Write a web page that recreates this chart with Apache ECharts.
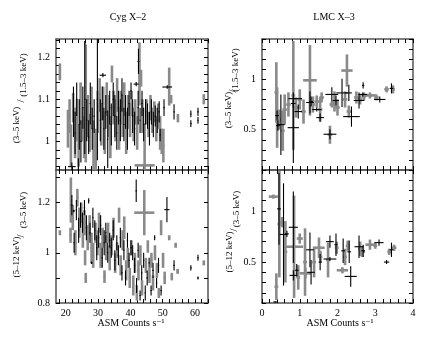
<!DOCTYPE html>
<html>
<head>
<meta charset="utf-8">
<script src="https://cdn.jsdelivr.net/npm/echarts@6/dist/echarts.min.js"></script>
<style>
  html, body { margin: 0; padding: 0; background: #fff; }
  #chart { width: 443px; height: 343px; }
</style>
</head>
<body>
<div id="chart"></div>
<script>
// each point: [x, y, xErr, yErr]
const cygSoftGray = [
  [18.2,1.165,0.2,0.02],[20.7,1.03,0.3,0.045],[21.2,1.06,0.3,0.04],[21.6,0.99,0.3,0.05],
  [22.3,1.08,0.3,0.035],[22.9,1.02,0.3,0.06],[23.5,1.05,0.3,0.05],[24.0,0.99,0.3,0.05],
  [24.6,1.09,0.3,0.05],[25.1,1.04,0.3,0.04],[25.7,1.01,0.3,0.05],[26.2,1.09,0.3,0.14],
  [26.8,1.06,0.3,0.05],[27.4,1.02,0.3,0.045],[28.0,1.08,0.3,0.05],[28.6,0.99,0.3,0.06],
  [29.3,0.98,0.3,0.05],[29.9,1.07,0.3,0.05],[30.5,1.11,0.3,0.04],[31.0,1.04,0.3,0.05],
  [31.6,1.09,0.3,0.04],[32.1,1.02,0.3,0.05],[32.7,1.10,0.3,0.04],[33.3,1.06,0.3,0.05],
  [33.8,1.01,0.3,0.05],[34.3,1.16,0.3,0.02],[34.8,1.08,0.3,0.04],[35.4,1.05,0.3,0.05],
  [35.9,1.11,0.3,0.04],[36.5,1.03,0.3,0.05],[37.0,1.08,0.3,0.04],[37.6,1.06,0.3,0.05],
  [38.1,1.10,0.3,0.04],[38.7,1.02,0.3,0.05],[39.3,1.07,0.3,0.04],[39.9,1.05,0.3,0.04],
  [40.4,1.09,0.3,0.03],[41.0,1.04,0.3,0.04],[41.5,1.07,0.3,0.03],[42.1,1.02,0.3,0.04],
  [42.8,1.16,0.3,0.075],[43.3,1.15,0.3,0.02],[43.7,1.06,0.3,0.04],[44.4,0.943,3.1,0.1],
  [45.0,1.07,0.3,0.03],[45.6,1.04,0.3,0.03],[46.2,1.08,0.3,0.03],[46.8,1.05,0.3,0.03],
  [47.4,1.07,0.3,0.025],[48.0,1.03,0.3,0.03],[48.6,1.06,0.3,0.03],[49.2,1.02,0.3,0.04],
  [49.7,1.00,0.3,0.03],[50.2,0.99,0.3,0.04],[52.0,1.13,0.3,0.045],[52.6,1.10,0.3,0.01],
  [54.7,1.055,0.3,0.01],[62.7,1.10,0.2,0.012]
];
const cygSoftBlack = [
  [21.9,0.94,1.2,0.01],[23.9,0.93,0.2,0.03],[22.4,1.07,0.2,0.06],[22.9,1.02,0.2,0.05],
  [23.4,1.10,0.2,0.04],[24.2,1.04,0.2,0.06],[24.7,1.00,0.2,0.05],[25.3,1.08,0.2,0.05],
  [25.9,1.10,0.2,0.13],[25.9,1.233,0.2,0.005],[26.5,1.05,0.2,0.05],[27.1,1.01,0.2,0.04],
  [27.6,1.09,0.2,0.05],[28.2,1.03,0.2,0.05],[28.8,1.06,0.2,0.04],[29.8,1.10,0.2,0.145],
  [31.5,1.157,1.0,0.005],[30.7,1.05,0.2,0.05],[31.3,1.09,0.2,0.04],[31.8,1.03,0.2,0.05],
  [32.4,1.07,0.2,0.04],[33.0,1.005,0.2,0.068],[33.6,1.08,0.2,0.04],[34.1,1.04,0.2,0.05],
  [34.7,1.10,0.2,0.04],[35.2,1.06,0.2,0.05],[35.8,1.02,0.2,0.04],[36.3,1.08,0.2,0.04],
  [36.9,1.05,0.2,0.05],[37.4,1.11,0.2,0.04],[38.0,1.04,0.2,0.04],[38.5,1.07,0.2,0.04],
  [39.1,1.03,0.2,0.05],[39.6,1.09,0.2,0.03],[40.2,1.12,0.2,0.02],[40.7,1.06,0.2,0.04],
  [41.3,1.03,0.2,0.04],[41.8,1.136,0.8,0.005],[42.4,1.08,0.2,0.04],[42.5,1.19,0.3,0.03],
  [43.0,1.05,0.2,0.03],[43.6,1.09,0.2,0.03],[44.1,1.04,0.2,0.04],[44.7,1.07,0.2,0.03],
  [45.3,1.06,0.2,0.03],[45.9,1.03,0.2,0.04],[46.5,1.07,0.2,0.03],[47.1,1.04,0.2,0.03],
  [47.7,1.06,0.2,0.025],[48.3,1.05,0.2,0.03],[48.9,1.07,0.2,0.025],[49.2,1.015,0.2,0.015],
  [50.4,1.08,0.2,0.02],[51.4,1.129,1.5,0.004],[53.5,1.07,0.2,0.018],[58.7,1.065,0.2,0.008],
  [58.7,1.042,0.2,0.008],[60.9,1.07,0.2,0.01],[60.9,1.05,0.2,0.008]
];
const cygHardGray = [
  [18.2,1.08,0.2,0.01],[21.6,1.21,0.3,0.09],[21.5,1.07,0.3,0.03],[22.2,1.14,0.3,0.05],
  [23.0,1.04,0.3,0.05],[23.6,1.22,0.3,0.035],[24.2,1.12,0.3,0.06],[24.8,1.16,0.3,0.04],
  [25.3,1.08,0.3,0.06],[25.8,1.12,0.3,0.05],[26.0,0.98,0.3,0.03],[26.2,0.90,0.3,0.02],
  [26.8,1.06,0.3,0.05],[27.4,1.11,0.3,0.04],[28.0,1.02,0.3,0.06],[28.5,0.99,0.3,0.05],
  [29.2,1.08,0.3,0.04],[29.8,1.04,0.3,0.05],[30.3,1.12,0.3,0.04],[30.8,0.99,0.3,0.05],
  [31.4,1.06,0.3,0.04],[32.0,0.905,0.3,0.025],[32.5,1.02,0.3,0.05],[33.1,1.08,0.3,0.04],
  [33.6,0.98,0.3,0.05],[34.2,1.03,0.3,0.04],[34.8,1.10,0.3,0.04],[35.3,0.96,0.3,0.04],
  [35.9,1.01,0.3,0.03],[36.5,1.15,0.3,0.03],[37.0,0.95,0.3,0.04],[37.6,1.05,0.3,0.04],
  [38.1,1.10,0.3,0.045],[38.7,0.93,0.3,0.04],[39.2,0.98,0.3,0.04],[39.8,0.90,0.3,0.04],
  [40.3,1.02,0.3,0.03],[40.9,0.87,0.3,0.04],[41.4,0.96,0.3,0.04],[42.0,0.84,0.3,0.03],
  [42.5,0.93,0.3,0.04],[43.1,0.99,0.3,0.04],[43.6,0.86,0.3,0.03],[44.3,1.16,3.1,0.09],
  [44.8,0.95,0.3,0.03],[45.4,1.025,0.3,0.025],[45.9,0.91,0.3,0.03],[46.5,0.97,0.3,0.03],
  [47.0,0.88,0.3,0.03],[47.6,1.00,0.3,0.03],[48.2,0.93,0.3,0.03],[48.8,0.84,0.3,0.02],
  [49.5,1.10,0.3,0.03],[50.1,0.97,0.3,0.03],[50.6,0.90,0.3,0.025],[52.0,1.06,0.3,0.01],
  [52.8,0.905,0.3,0.015],[54.0,1.03,0.3,0.01],[54.6,0.926,0.3,0.01],[62.7,0.96,0.2,0.01]
];
const cygHardBlack = [
  [21.9,1.19,0.3,0.04],[22.5,1.167,0.3,0.005],[22.6,1.04,0.2,0.04],[23.3,1.17,0.2,0.04],
  [24.0,1.09,0.2,0.05],[24.6,1.15,0.2,0.05],[25.2,1.12,0.2,0.04],[25.8,1.18,0.2,0.03],
  [26.4,1.10,0.2,0.05],[27.1,1.207,0.2,0.01],[27.5,1.08,0.2,0.04],[28.0,0.96,0.3,0.005],
  [28.4,1.14,0.2,0.04],[29.0,1.09,0.2,0.04],[29.6,1.02,0.2,0.05],[30.2,1.06,0.2,0.04],
  [30.8,1.11,0.2,0.04],[31.3,0.98,0.2,0.04],[31.9,1.04,0.2,0.05],[32.4,1.08,0.2,0.04],
  [33.0,1.00,0.2,0.04],[33.6,1.05,0.2,0.03],[34.1,1.02,0.2,0.04],[34.7,1.09,0.2,0.04],
  [35.2,0.97,0.2,0.04],[35.8,1.04,0.2,0.03],[36.3,0.99,0.2,0.04],[36.9,1.06,0.2,0.04],
  [37.4,0.92,0.2,0.03],[38.0,1.01,0.2,0.04],[38.5,0.90,0.2,0.03],[39.1,1.05,0.2,0.03],
  [39.6,0.97,0.2,0.03],[40.2,1.02,0.2,0.03],[40.7,1.00,0.2,0.03],[41.3,0.95,0.2,0.03],
  [41.8,1.247,0.2,0.045],[41.9,0.87,0.2,0.03],[42.4,1.01,0.2,0.03],[43.0,0.83,0.2,0.02],
  [43.5,0.92,0.2,0.03],[44.1,0.97,0.2,0.03],[44.6,0.84,0.2,0.03],[45.2,0.90,0.2,0.03],
  [45.8,0.96,0.2,0.02],[46.4,0.85,0.2,0.02],[47.0,0.93,0.2,0.03],[47.5,1.06,0.2,0.01],
  [48.1,0.88,0.2,0.02],[48.7,0.95,0.2,0.03],[49.5,0.85,0.2,0.02],[51.3,1.172,0.8,0.05],
  [53.5,0.95,0.2,0.02],[58.7,0.94,0.2,0.01],[60.9,0.98,0.2,0.012],[60.9,0.90,0.2,0.006]
];
const lmcSoftGray = [
  [0.38,0.87,0.05,0.3],[0.40,0.62,0.05,0.3],[0.45,0.60,0.05,0.1],[0.55,0.49,0.05,0.2],
  [0.60,0.70,0.06,0.15],[0.70,0.75,0.06,0.12],[0.83,0.84,0.05,0.54],[0.90,0.72,0.06,0.1],
  [1.00,0.80,0.06,0.1],[1.10,0.68,0.06,0.12],[1.27,0.99,0.18,0.35],[1.35,0.75,0.06,0.08],
  [1.45,0.78,0.06,0.06],[1.54,0.70,0.06,0.12],[1.58,0.82,0.06,0.05],[1.80,0.45,0.06,0.09],
  [1.92,0.78,0.06,0.1],[2.00,0.72,0.06,0.08],[1.85,0.75,0.06,0.03],[2.25,1.087,0.15,0.16],
  [2.20,0.80,0.06,0.08],[2.30,0.68,0.06,0.06],[2.50,0.82,0.06,0.06],[2.60,0.80,0.06,0.05],
  [2.70,0.83,0.06,0.04],[2.86,0.84,0.15,0.03],[3.03,0.82,0.06,0.03],[3.30,0.90,0.06,0.03],
  [3.47,0.90,0.05,0.04]
];
const lmcSoftBlack = [
  [0.40,0.64,0.05,0.05],[0.42,0.54,0.05,0.05],[0.50,0.55,0.1,0.3],[0.83,0.52,0.15,0.35],
  [0.83,0.76,0.06,0.04],[0.88,0.808,0.18,0.005],[0.96,0.68,0.1,0.07],[1.27,0.77,0.1,0.11],
  [1.30,0.78,0.05,0.05],[1.45,0.70,0.12,0.02],[1.54,0.62,0.1,0.04],[1.80,0.455,0.17,0.05],
  [1.85,0.85,0.17,0.07],[1.96,0.79,0.08,0.05],[2.12,0.865,0.15,0.14],[2.30,0.865,0.08,0.08],
  [2.37,0.63,0.22,0.1],[2.57,0.79,0.14,0.08],[2.67,0.85,0.12,0.02],[2.68,0.94,0.03,0.03],
  [3.12,0.80,0.15,0.03],[3.43,0.91,0.05,0.05]
];
const lmcHardGray = [
  [0.30,1.14,0.12,0.02],[0.46,0.87,0.05,0.52],[0.53,0.89,0.06,0.05],[0.38,0.26,0.05,0.13],
  [0.62,0.60,0.05,0.3],[0.85,0.65,0.24,0.5],[0.96,0.35,0.05,0.12],[1.00,0.73,0.08,0.05],
  [1.14,0.50,0.05,0.33],[1.15,0.39,0.15,0.05],[1.38,0.50,0.05,0.15],[1.51,0.64,0.15,0.1],
  [1.55,0.55,0.05,0.06],[1.75,0.52,0.05,0.17],[1.98,0.64,0.05,0.06],[2.13,0.42,0.15,0.03],
  [2.20,0.55,0.05,0.08],[2.27,0.66,0.05,0.05],[2.60,0.63,0.05,0.07],[2.65,0.60,0.08,0.05],
  [2.86,0.67,0.12,0.05],[3.00,0.66,0.05,0.03],[3.37,0.60,0.05,0.03],[3.50,0.64,0.06,0.03]
];
const lmcHardBlack = [
  [0.35,0.11,0.05,0.005],[0.45,1.02,0.05,0.35],[0.57,0.77,0.1,0.5],[0.66,0.776,0.05,0.03],
  [0.83,0.84,0.12,0.35],[0.83,0.37,0.1,0.05],[0.92,0.42,0.05,0.06],[1.27,0.62,0.1,0.17],
  [1.30,0.40,0.1,0.12],[1.54,0.50,0.04,0.08],[1.80,0.53,0.17,0.02],[1.80,0.70,0.1,0.06],
  [1.96,0.67,0.04,0.11],[2.15,0.61,0.05,0.12],[2.31,0.60,0.05,0.11],[2.35,0.36,0.16,0.1],
  [2.57,0.65,0.12,0.11],[2.68,0.61,0.05,0.06],[3.10,0.69,0.12,0.03],[3.30,0.50,0.07,0.02],
  [3.43,0.62,0.05,0.07]
];

// tick labels
const cygXLabels = [20, 30, 40, 50, 60];
const cygSoftYLabels = [1, 1.1, 1.2];
const cygHardYLabels = [0.8, 1, 1.2];
const lmcXLabels = [0, 1, 2, 3, 4];
const lmcYLabels = [0.5, 1];

const serif = '"Liberation Serif", "DejaVu Serif", serif';

function steps(from, to, step) {
  let out = [];
  for (let v = from; v <= to + 1e-9; v += step) out.push(Math.round(v * 1000) / 1000);
  return out;
}

function axis(grid, pos, min, max, labels, ticks) {
  return {
    type: 'value', gridIndex: grid, position: pos, min: min, max: max,
    axisLine: { show: true, onZero: false, lineStyle: { color: '#555', width: 1.5 } },
    axisTick: { inside: true, length: 4, customValues: ticks, lineStyle: { color: '#000' } },
    axisLabel: labels ? {
      customValues: labels, color: '#000', fontFamily: serif, fontSize: 10,
      margin: (pos == 'left') ? 6 : 5, formatter: v => String(v)
    } : { show: false },
    splitLine: { show: false }
  };
}

const cygXTicks = steps(18, 64, 2);
const lmcXTicks = steps(0, 4, 0.2);
const cygSoftTicks = steps(0.94, 1.24, 0.02);
const cygHardTicks = steps(0.8, 1.3, 0.1);
const lmcYTicks = steps(0.1, 1.4, 0.1);

// grids: 0 Cyg top, 1 Cyg bottom, 2 LMC top, 3 LMC bottom
const grids = [
  { left: 56, top: 39, width: 152, height: 131 },
  { left: 56, top: 170, width: 152, height: 133 },
  { left: 262, top: 39, width: 151, height: 131 },
  { left: 262, top: 170, width: 151, height: 133 }
];

const xAxes = [
  axis(0, 'bottom', 17, 64, null, cygXTicks), axis(0, 'top', 17, 64, null, cygXTicks),
  axis(1, 'bottom', 17, 64, cygXLabels, cygXTicks), axis(1, 'top', 17, 64, null, cygXTicks),
  axis(2, 'bottom', 0, 4, null, lmcXTicks), axis(2, 'top', 0, 4, null, lmcXTicks),
  axis(3, 'bottom', 0, 4, lmcXLabels, lmcXTicks), axis(3, 'top', 0, 4, null, lmcXTicks)
];
const yAxes = [
  axis(0, 'left', 0.932, 1.243, cygSoftYLabels, cygSoftTicks), axis(0, 'right', 0.932, 1.243, null, cygSoftTicks),
  axis(1, 'left', 0.8, 1.33, cygHardYLabels, cygHardTicks), axis(1, 'right', 0.8, 1.33, null, cygHardTicks),
  axis(2, 'left', 0.1, 1.4, lmcYLabels, lmcYTicks), axis(2, 'right', 0.1, 1.4, null, lmcYTicks),
  axis(3, 'left', 0.1, 1.4, lmcYLabels, lmcYTicks), axis(3, 'right', 0.1, 1.4, null, lmcYTicks)
];

function errSeries(data, panel, gray) {
  return {
    type: 'custom',
    xAxisIndex: panel * 2, yAxisIndex: panel * 2,
    clip: true,
    z: gray ? 2 : 3,
    dimensions: ['x', 'y', 'dx', 'dy'],
    encode: { x: 0, y: 1 },
    data: data,
    silent: true,
    renderItem: function (params, api) {
      let x = api.value(0), y = api.value(1), dx = api.value(2), dy = api.value(3);
      let l = api.coord([x - dx, y]), r = api.coord([x + dx, y]);
      let t = api.coord([x, y + dy]), b = api.coord([x, y - dy]);
      let style = { stroke: gray ? '#8a8a8a' : '#000', lineWidth: gray ? 2.6 : 1.1 };
      return {
        type: 'group',
        children: [
          { type: 'line', shape: { x1: l[0], y1: l[1], x2: r[0], y2: r[1] }, style: style },
          { type: 'line', shape: { x1: t[0], y1: t[1], x2: b[0], y2: b[1] }, style: style }
        ]
      };
    }
  };
}

function txt(x, y, text, size, rot) {
  return {
    type: 'text', x: x, y: y, rotation: rot ? Math.PI / 2 : 0,
    style: { text: text, fill: '#000', font: size + 'px ' + serif, align: 'center', verticalAlign: 'middle' }
  };
}

const myChart = echarts.init(document.getElementById('chart'));
myChart.setOption({
  backgroundColor: '#fff',
  animation: false,
  grid: grids,
  xAxis: xAxes,
  yAxis: yAxes,
  series: [
    errSeries(cygSoftGray, 0, true), errSeries(cygSoftBlack, 0, false),
    errSeries(cygHardGray, 1, true), errSeries(cygHardBlack, 1, false),
    errSeries(lmcSoftGray, 2, true), errSeries(lmcSoftBlack, 2, false),
    errSeries(lmcHardGray, 3, true), errSeries(lmcHardBlack, 3, false)
  ],
  graphic: [
    txt(128, 17, 'Cyg X–2', 10),
    txt(334, 17, 'LMC X–3', 10),
    txt(131, 323, 'ASM Counts s⁻¹', 10),
    txt(340, 323, 'ASM Counts s⁻¹', 10),
    // y titles, drawn as a fraction
    txt(17, 125, '(3–5 keV)', 9, true), txt(21, 101, '/', 11, true), txt(24, 75, '(1.5–3 keV)', 9, true),
    txt(17, 257, '(5–12 keV)', 9, true), txt(21, 236, '/', 11, true), txt(24, 210, '(3–5 keV)', 9, true),
    txt(229, 110, '(3–5 keV)', 9, true), txt(233, 91, '/', 11, true), txt(236, 70, '(1.5–3 keV)', 9, true),
    txt(230, 252, '(5–12 keV)', 9, true), txt(234, 230, '/', 11, true), txt(237, 209, '(3–5 keV)', 9, true)
  ]
});
</script>
</body>
</html>
